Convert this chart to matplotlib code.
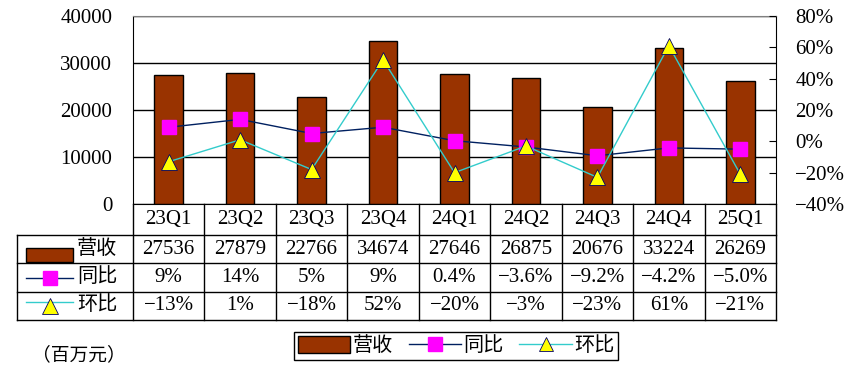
import matplotlib
matplotlib.use("Agg")
import matplotlib.pyplot as plt
from matplotlib.lines import Line2D
from matplotlib.patches import Rectangle
from matplotlib.transforms import blended_transform_factory

plt.rcParams['font.family'] = ['Liberation Serif', 'Noto Sans CJK SC']
plt.rcParams['axes.unicode_minus'] = True

# data
quarters = ["23Q1", "23Q2", "23Q3", "23Q4", "24Q1", "24Q2", "24Q3", "24Q4", "25Q1"]
revenue = [27536, 27879, 22766, 34674, 27646, 26875, 20676, 33224, 26269]
yoy = [9, 14, 5, 9, 0.4, -3.6, -9.2, -4.2, -5.0]
qoq = [-13, 1, -18, 52, -20, -3, -23, 61, -21]
yoy_labels = ["9%", "14%", "5%", "9%", "0.4%", "\u22123.6%", "\u22129.2%", "\u22124.2%", "\u22125.0%"]
qoq_labels = ["\u221213%", "1%", "\u221218%", "52%", "\u221220%", "\u22123%", "\u221223%", "61%", "\u221221%"]

W, H = 858, 388
fig = plt.figure(figsize=(W / 100, H / 100), dpi=100)

def fx(x):
    return x / W

def fy(y):
    return 1 - y / H

bar_c = "#993300"
yoy_line = "#002060"
qoq_line = "#33CCCC"
fs = 15

# plot area in pixels: left 133, right 776, top 16, bottom 204
ax = fig.add_axes([fx(133), fy(204), fx(776 - 133), (204 - 16) / H])
x = list(range(len(quarters)))
ax.bar(x, revenue, width=0.4, color=bar_c, edgecolor="black", linewidth=1, zorder=2)
ax.set_xlim(-0.5, len(quarters) - 0.5)
ax.set_ylim(0, 40000)
ax.set_yticks([0, 10000, 20000, 30000, 40000])
ax.set_xticks([])
ax.grid(axis="y", color="black", linewidth=1, zorder=0)
ax.tick_params(axis="y", length=0, labelsize=fs, pad=15)
ax.spines["top"].set_color("#808080")
for s in ["left", "right", "bottom"]:
    ax.spines[s].set_color("black")

ax2 = ax.twinx()
ax2.set_ylim(-40, 80)
ax2.set_yticks(range(-40, 81, 20))
ax2.set_yticklabels([("\u2212%d%%" % -v) if v < 0 else "%d%%" % v for v in range(-40, 81, 20)])
ax2.tick_params(axis="y", direction="in", length=5, labelsize=fs, pad=14)
ax2.plot(x, yoy, color=yoy_line, linewidth=1, marker="s", markersize=10,
         markerfacecolor="#FF00FF", markeredgecolor="#FF00FF", zorder=3)
ax2.plot(x, qoq, color=qoq_line, linewidth=1, marker="^", markersize=11,
         markerfacecolor="#FFFF00", markeredgecolor="#000066", markeredgewidth=0.6, zorder=4)
for s in ax2.spines.values():
    s.set_visible(False)

# table below the plot
tr = blended_transform_factory(ax.transData, fig.transFigure)
lw = 1
row_y = [204, 235, 263, 292, 320]
for y in row_y[1:]:
    fig.add_artist(Line2D([fx(17), fx(776)], [fy(y), fy(y)], color="black", lw=lw))
for i in range(len(quarters) + 1):
    xb = i - 0.5
    fig.add_artist(Line2D([xb, xb], [fy(204), fy(320)], transform=tr, color="black", lw=lw))
fig.add_artist(Line2D([fx(17), fx(17)], [fy(235), fy(320)], color="black", lw=lw))

def mid(a, b):
    return fy((a + b) / 2)

for i, q in enumerate(quarters):
    fig.text(i, mid(204, 235), q, transform=tr, ha="center", va="center", fontsize=fs)
    fig.text(i, mid(235, 263), str(revenue[i]), transform=tr, ha="center", va="center", fontsize=fs)
    fig.text(i, mid(263, 292), yoy_labels[i], transform=tr, ha="center", va="center", fontsize=fs)
    fig.text(i, mid(292, 320), qoq_labels[i], transform=tr, ha="center", va="center", fontsize=fs)

# row headers with keys
fig.add_artist(Rectangle((fx(26), fy(262)), fx(47), (262 - 248) / H, facecolor=bar_c,
                         edgecolor="black", lw=1))
fig.add_artist(Line2D([fx(26), fx(73)], [mid(263, 292)] * 2, color=yoy_line, lw=1))
fig.add_artist(Line2D([fx(49.5)], [mid(263, 292)], marker="s", markersize=10, color="#FF00FF",
                      markeredgecolor="#FF00FF"))
fig.add_artist(Line2D([fx(26), fx(73)], [mid(292, 320) + 4 / H] * 2, color=qoq_line, lw=1))
fig.add_artist(Line2D([fx(49.5)], [mid(292, 320)], marker="^", markersize=11,
                      markerfacecolor="#FFFF00", markeredgecolor="#000066", markeredgewidth=0.6))
for lab, (a, b) in zip(["营收", "同比", "环比"], [(235, 263), (263, 292), (292, 320)]):
    fig.text(fx(77), mid(a, b), lab, ha="left", va="center", fontsize=14.5)

# legend
handles = [
    Rectangle((0, 0), 1, 1, facecolor=bar_c, edgecolor="black", lw=1),
    Line2D([], [], color=yoy_line, lw=1, marker="s", markersize=10,
           markerfacecolor="#FF00FF", markeredgecolor="#FF00FF"),
    Line2D([], [], color=qoq_line, lw=1, marker="^", markersize=10,
           markerfacecolor="#FFFF00", markeredgecolor="#000066", markeredgewidth=0.6),
]
leg = fig.legend(handles, ["营收", "同比", "环比"], loc="center",
                 bbox_to_anchor=(fx(456), fy(346)), ncol=3, fontsize=14.5,
                 frameon=True, fancybox=False, edgecolor="black", framealpha=1,
                 handlelength=2.6, handletextpad=0.1, columnspacing=0.8,
                 borderpad=0.2, borderaxespad=0, handleheight=0.9)
leg.get_frame().set_linewidth(1)

fig.text(fx(79), fy(355), "（百万元）", ha="center", va="center", fontsize=13.5)

fig.savefig("out.png", dpi=100)
